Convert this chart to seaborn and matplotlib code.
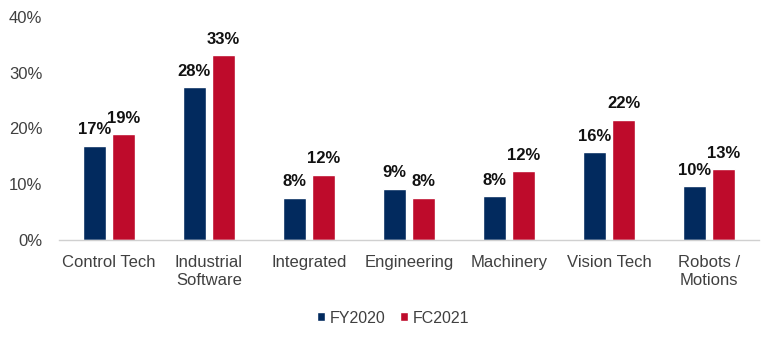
import matplotlib
matplotlib.use("Agg")
import matplotlib.pyplot as plt
import seaborn as sns
import pandas as pd
from matplotlib.ticker import PercentFormatter

categories = ["Control Tech", "Industrial\nSoftware", "Integrated", "Engineering",
              "Machinery", "Vision Tech", "Robots /\nMotions"]
fy2020 = [16.9, 27.4, 7.6, 9.2, 7.9, 15.8, 9.7]
fc2021 = [19.0, 33.2, 11.7, 7.6, 12.4, 21.6, 12.7]
fy2020_labels = ["17%", "28%", "8%", "9%", "8%", "16%", "10%"]
fc2021_labels = ["19%", "33%", "12%", "8%", "12%", "22%", "13%"]
series = ["FY2020", "FC2021"]
colors = ["#022A5E", "#BE0B2B"]

df = pd.DataFrame({
    "cat": categories * 2,
    "val": fy2020 + fc2021,
    "series": [series[0]] * len(categories) + [series[1]] * len(categories),
})

sns.set_theme(style="white")
plt.rcParams["font.family"] = ["Liberation Sans", "DejaVu Sans"]

fig = plt.figure(figsize=(7.8, 3.43), dpi=100)
ax = fig.add_axes([59 / 780, 1 - 240 / 343, 700 / 780, 223 / 343])

sns.barplot(data=df, x="cat", y="val", hue="series", palette=colors,
            width=0.58, gap=0.2, ax=ax, saturation=1, errorbar=None)

for cont, labs in zip(ax.containers, [fy2020_labels, fc2021_labels]):
    ax.bar_label(cont, labels=labs, padding=6, fontsize=12,
                 fontweight="bold", color="#111111")

ax.set_ylim(0, 40)
ax.set_xlim(-0.5, 6.5)
ax.set_yticks([0, 10, 20, 30, 40])
ax.yaxis.set_major_formatter(PercentFormatter(decimals=0))
ax.set_xlabel("")
ax.set_ylabel("")
ax.tick_params(axis="both", length=0, labelsize=12, colors="#404040")
ax.tick_params(axis="x", pad=11)
ax.tick_params(axis="y", pad=12)
for s in ["top", "right", "left"]:
    ax.spines[s].set_visible(False)
ax.spines["bottom"].set_color("#D0D0D0")
ax.spines["bottom"].set_linewidth(1)

ax.legend(loc="center", bbox_to_anchor=(0.477, -0.35), ncol=2, frameon=False,
          fontsize=11.5, handlelength=0.5, handleheight=0.5, handletextpad=0.3,
          columnspacing=0.9, labelcolor="#404040")

fig.savefig("out.png", dpi=100)
